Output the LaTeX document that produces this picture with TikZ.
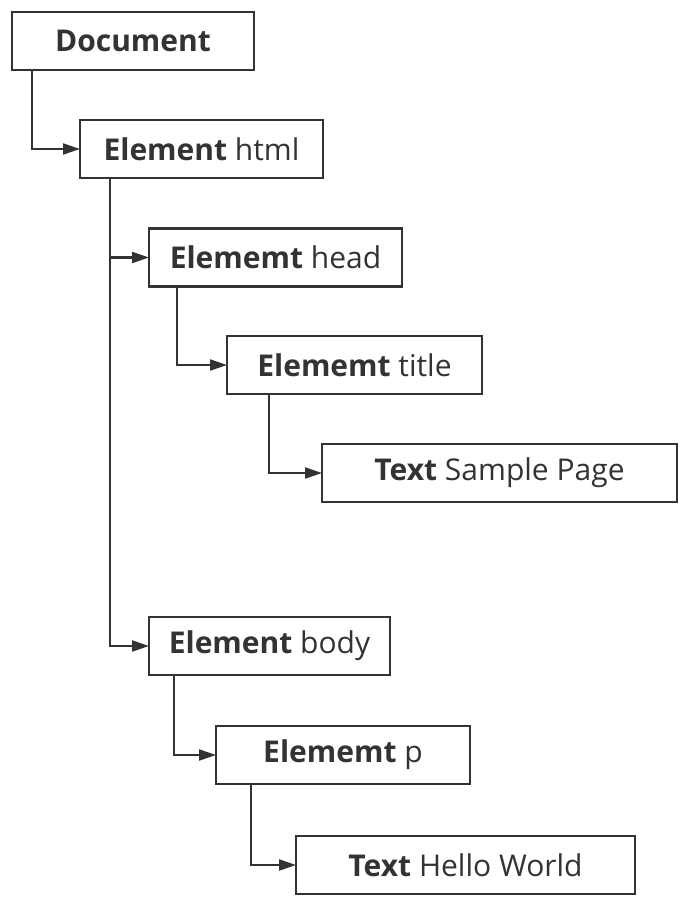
\documentclass[tikz,border=0pt]{standalone}
\usepackage{fontspec}
\setmainfont{Open Sans}
\usetikzlibrary{arrows.meta}
\definecolor{dark}{HTML}{333333}
\tikzset{
  box/.style={draw=dark, line width=2.2pt, minimum height=58pt, inner sep=0pt, outer sep=0pt,
    text=dark, font=\fontsize{30}{34}\selectfont},
  conn/.style={draw=dark, line width=2.2pt, -{Triangle[length=17pt,width=11pt]}}
}
\begin{document}
\begin{tikzpicture}[x=1pt,y=-1pt]
\fill[white] (0,0) rectangle (700,913);
\useasboundingbox (0,0) rectangle (700,913);
\node[box, minimum width=242pt] (doc) at (133,41) {\textbf{Document}};
\node[box, minimum width=243pt] (html) at (201.5,149) {\textbf{Element} html};
\node[box, minimum width=253pt] (head) at (275.5,257.5) {\textbf{Elememt} head};
\node[box, minimum width=255pt] (title) at (354.5,365) {\textbf{Elememt} title};
\node[box, minimum width=355pt] (sample) at (499.5,473) {\textbf{Text} Sample Page};
\node[box, minimum width=241pt] (body) at (269.5,646) {\textbf{Element} body};
\node[box, minimum width=254pt] (p) at (343,755) {\textbf{Elememt} p};
\node[box, minimum width=339pt] (hello) at (465.5,865) {\textbf{Text} Hello World};
\draw[conn] ([xshift=20pt]doc.south west) |- (html.west);
\draw[conn] ([xshift=30pt]html.south west) |- (head.west);
\draw[conn] ([xshift=30pt]html.south west) |- (body.west);
\draw[conn] ([xshift=28pt]head.south west) |- (title.west);
\draw[conn] ([xshift=42pt]title.south west) |- (sample.west);
\draw[conn] ([xshift=25pt]body.south west) |- (p.west);
\draw[conn] ([xshift=35pt]p.south west) |- (hello.west);
\end{tikzpicture}
\end{document}
